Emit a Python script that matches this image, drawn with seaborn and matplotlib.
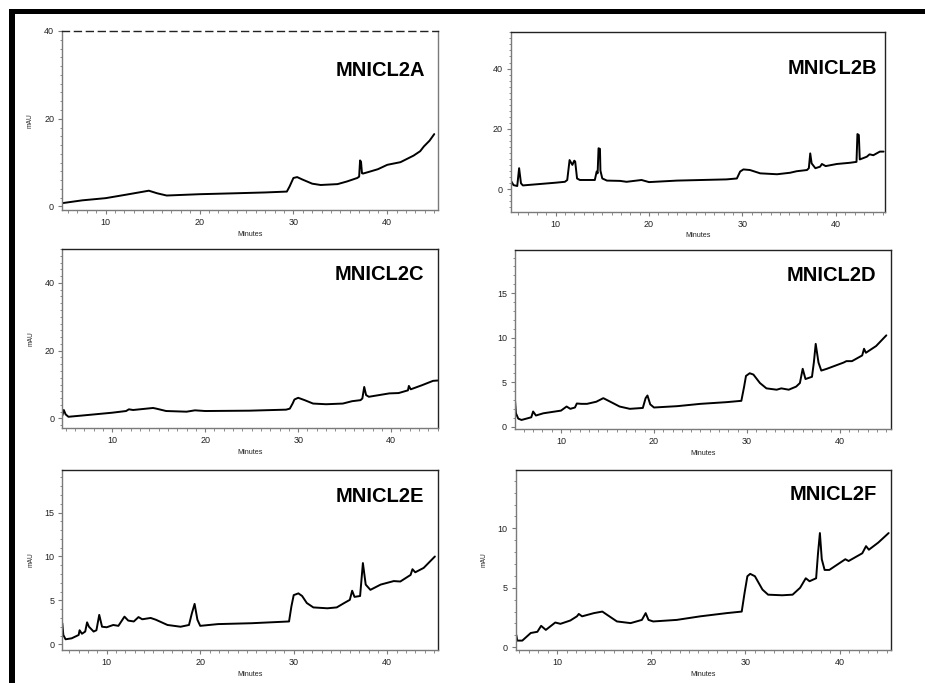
import numpy as np
import pandas as pd
import matplotlib
matplotlib.use("Agg")
import matplotlib.pyplot as plt
from matplotlib.ticker import MultipleLocator
from matplotlib.patches import Rectangle
import seaborn as sns

sns.set_style("ticks")
plt.rcParams['font.family'] = ['Liberation Sans', 'DejaVu Sans']

# ---------------- data (retention time in minutes, absorbance in mAU) -------------
names = ["MNICL2A", "MNICL2B", "MNICL2C", "MNICL2D", "MNICL2E", "MNICL2F"]

t_A = [5.37, 7.5, 10.0, 12.2, 14.6, 15.5, 16.5, 20.0, 23.6, 27.0, 29.3, 29.6, 30.0, 30.4, 30.9,
       32.0, 32.9, 34.7, 35.7, 36.8, 37.0, 37.1, 37.2, 37.3, 37.4, 37.9, 39.0, 40.0, 41.4,
       42.8, 43.5, 43.9, 44.5, 45.0]
y_A = [0.76, 1.4, 1.9, 2.7, 3.6, 3.0, 2.5, 2.8, 3.0, 3.2, 3.4, 4.6, 6.5, 6.7, 6.2,
       5.2, 4.9, 5.1, 5.7, 6.5, 6.8, 10.5, 10.2, 7.6, 7.5, 7.8, 8.5, 9.5, 10.1,
       11.6, 12.6, 13.7, 15.0, 16.5]

t_B = [5.18, 5.5, 5.9, 6.1, 6.3, 6.5, 10.0, 11.0, 11.25, 11.5, 11.8, 12.0, 12.1, 12.3, 12.6,
       14.2, 14.4, 14.5, 14.6, 14.75, 14.8, 15.0, 15.5, 16.9, 17.6, 19.2, 20.0, 23.0, 28.3,
       29.4, 29.75, 30.1, 30.8, 31.9, 33.7, 35.1, 35.8, 36.9, 37.1, 37.25, 37.4, 37.8, 38.3,
       38.5, 38.9, 40.1, 41.5, 42.2, 42.3, 42.45, 42.55, 43.3, 43.6, 44.0, 44.7, 45.1]
y_B = [3.1, 1.4, 1.1, 7.0, 2.0, 1.3, 2.2, 2.5, 3.1, 9.7, 8.1, 9.5, 9.2, 3.6, 3.1,
       3.1, 5.9, 5.3, 13.6, 13.4, 6.2, 3.6, 2.9, 2.8, 2.5, 3.1, 2.4, 2.9, 3.3,
       3.6, 5.9, 6.6, 6.4, 5.3, 5.0, 5.5, 6.0, 6.4, 7.0, 11.9, 8.6, 7.0, 7.5,
       8.4, 7.7, 8.4, 8.8, 9.1, 18.3, 18.0, 9.9, 10.8, 11.6, 11.3, 12.5, 12.5]

t_C = [4.64, 4.8, 5.0, 5.3, 6.9, 10.0, 11.5, 11.8, 12.25, 14.4, 14.75, 15.8, 18.0, 18.9,
       20.0, 24.75, 28.7, 29.1, 29.4, 29.6, 30.0, 30.7, 31.6, 33.0, 34.8, 35.8, 36.7, 36.9,
       37.1, 37.3, 37.6, 39.8, 40.8, 41.8, 41.9, 42.1, 43.3, 44.5, 45.0]
y_C = [0.8, 2.5, 1.2, 0.5, 0.9, 1.7, 2.2, 2.7, 2.5, 3.1, 2.9, 2.2, 2.0, 2.4,
       2.2, 2.3, 2.6, 2.9, 4.4, 5.6, 6.1, 5.4, 4.4, 4.2, 4.4, 5.1, 5.4, 5.9,
       9.3, 6.9, 6.4, 7.4, 7.5, 8.3, 9.6, 8.6, 9.8, 11.1, 11.2]

t_D = [5.05, 5.15, 5.4, 5.75, 6.8, 7.0, 7.3, 8.1, 10.0, 10.6, 11.0, 11.5, 11.7, 12.2, 12.8,
       13.8, 14.55, 15.3, 16.3, 17.4, 18.8, 19.1, 19.3, 19.6, 20.0, 22.5, 25.0, 27.8, 29.4,
       29.7, 29.9, 30.3, 30.7, 31.4, 32.1, 33.2, 33.7, 34.5, 35.3, 35.7, 36.0, 36.3, 37.0,
       37.2, 37.4, 37.7, 38.0, 38.6, 40.4, 40.7, 41.3, 42.4, 42.6, 42.8, 43.9, 45.0]
y_D = [3.0, 1.5, 0.9, 0.75, 1.05, 1.7, 1.25, 1.5, 1.8, 2.26, 2.0, 2.15, 2.6, 2.56, 2.56,
       2.8, 3.2, 2.8, 2.26, 2.0, 2.1, 3.2, 3.5, 2.5, 2.15, 2.3, 2.56, 2.75, 2.9,
       4.5, 5.7, 6.0, 5.85, 4.9, 4.3, 4.15, 4.3, 4.15, 4.5, 4.9, 6.5, 5.35, 5.6,
       7.2, 9.3, 7.2, 6.3, 6.5, 7.2, 7.36, 7.36, 8.0, 8.75, 8.3, 9.06, 10.26]

t_E = [5.25, 5.36, 5.6, 6.25, 7.0, 7.1, 7.35, 7.7, 7.9, 8.1, 8.6, 8.9, 9.2, 9.5, 10.0,
       10.7, 11.25, 11.9, 12.3, 12.9, 13.4, 13.8, 14.7, 15.25, 16.5, 17.9, 18.8, 19.1, 19.4,
       19.7, 20.0, 21.9, 25.5, 29.5, 29.75, 30.0, 30.5, 30.9, 31.4, 32.1, 33.6, 34.6, 35.4,
       36.0, 36.25, 36.5, 37.1, 37.4, 37.7, 38.2, 39.3, 40.7, 41.4, 42.5, 42.7, 43.0, 43.9,
       45.1]
y_E = [2.4, 1.06, 0.57, 0.68, 1.06, 1.6, 1.2, 1.45, 2.5, 2.0, 1.45, 1.6, 3.35, 2.0, 1.94,
       2.2, 2.1, 3.15, 2.7, 2.6, 3.1, 2.85, 3.0, 2.8, 2.2, 2.0, 2.2, 3.5, 4.6,
       2.8, 2.1, 2.3, 2.4, 2.6, 4.3, 5.6, 5.8, 5.5, 4.7, 4.2, 4.1, 4.2, 4.7,
       5.06, 6.1, 5.4, 5.5, 9.25, 6.8, 6.2, 6.8, 7.2, 7.15, 7.9, 8.55, 8.2, 8.7,
       10.0]

t_F = [5.66, 5.77, 6.3, 7.2, 7.9, 8.3, 8.8, 9.8, 10.35, 11.4, 12.1, 12.3, 12.65, 13.9,
       14.8, 15.3, 16.35, 17.8, 19.0, 19.4, 19.7, 20.2, 22.7, 25.2, 28.0, 29.6, 29.9, 30.2,
       30.5, 31.0, 31.8, 32.4, 33.9, 35.0, 35.8, 36.4, 36.8, 37.5, 37.7, 37.9, 38.1, 38.4,
       38.9, 40.6, 40.95, 42.4, 42.8, 43.1, 44.1, 45.2]
y_F = [1.04, 0.56, 0.56, 1.2, 1.3, 1.8, 1.46, 2.08, 1.97, 2.25, 2.6, 2.8, 2.6, 2.87,
       3.0, 2.73, 2.17, 2.03, 2.3, 2.87, 2.3, 2.17, 2.3, 2.6, 2.87, 3.0, 4.56, 5.97,
       6.17, 5.97, 4.85, 4.42, 4.37, 4.42, 5.0, 5.8, 5.55, 5.8, 7.9, 9.6, 7.4, 6.5,
       6.5, 7.4, 7.25, 7.9, 8.5, 8.2, 8.8, 9.6]

times = [t_A, t_B, t_C, t_D, t_E, t_F]
signals = [y_A, y_B, y_C, y_D, y_E, y_F]

x_limits = [(5.35, 45.4), (5.2, 45.25), (4.64, 45.0), (5.05, 45.5), (5.25, 45.4), (5.6, 45.45)]
y_limits = [(-0.8, 40), (-7.4, 52), (-2.9, 50), (-0.3, 19.85), (-0.65, 19.85), (-0.23, 14.9)]
y_major = [20, 20, 20, 5, 5, 5]
y_minor = [2, 2, 2, 1, 1, 1]
has_ylabel = [True, False, True, False, True, True]

# ---------------- layout (pixels in a 925x683 canvas) -------------
W, H = 925, 683
boxes = [(62.0, 31.0, 438.0, 210.0), (510.7, 32.3, 885.0, 211.7),
         (62.3, 249.0, 437.7, 428.3), (515.0, 250.0, 891.0, 429.3),
         (62.3, 470.0, 437.7, 650.0), (515.7, 470.0, 891.0, 650.0)]
title_pos = [(0.965, 0.78), (0.978, 0.80), (0.963, 0.855), (0.962, 0.86), (0.964, 0.854), (0.962, 0.864)]

fig = plt.figure(figsize=(W / 100, H / 100), dpi=100)
fig.patch.set_facecolor("white")

gray = "#7a7a7a"
for i in range(6):
    l, t, r, b = boxes[i]
    ax = fig.add_axes([l / W, (H - b) / H, (r - l) / W, (b - t) / H])
    df = pd.DataFrame({"Minutes": times[i], "mAU": signals[i]})
    sns.lineplot(data=df, x="Minutes", y="mAU", ax=ax, color="black", linewidth=1.4,
                 estimator=None, sort=False)
    ax.set_xlim(*x_limits[i])
    ax.set_ylim(*y_limits[i])
    ax.xaxis.set_major_locator(MultipleLocator(10))
    ax.xaxis.set_minor_locator(MultipleLocator(1))
    ax.yaxis.set_major_locator(MultipleLocator(y_major[i]))
    ax.yaxis.set_minor_locator(MultipleLocator(y_minor[i]))
    ax.tick_params(axis="both", which="major", length=3.2, width=0.8, color=gray,
                   labelsize=6.5, labelcolor="#222222", pad=2.5)
    ax.tick_params(axis="both", which="minor", length=1.8, width=0.6, color=gray)
    for side in ["left", "bottom"]:
        ax.spines[side].set_color(gray)
        ax.spines[side].set_linewidth(1.0)
    for side in ["top", "right"]:
        ax.spines[side].set_visible(True)
        ax.spines[side].set_color("#222222")
        ax.spines[side].set_linewidth(1.0)
    if i == 0:
        ax.spines["top"].set_linestyle((0, (5, 3.6)))
        ax.spines["right"].set_color(gray)
    ax.set_xlabel("Minutes", fontsize=5.2, color="#222222")
    ax.xaxis.set_label_coords(0.5, -0.115)
    if has_ylabel[i]:
        ax.set_ylabel("mAU", fontsize=4.8, color="#222222")
        ax.yaxis.set_label_coords(-0.075, 0.5)
    else:
        ax.set_ylabel("")
    ax.text(title_pos[i][0], title_pos[i][1], names[i], transform=ax.transAxes,
            ha="right", va="center", fontsize=14.5, fontweight="bold", color="black")

# thick frame on the left and top edges
fig.add_artist(Rectangle((9 / W, 0), 6 / W, (H - 9) / H, transform=fig.transFigure,
                         facecolor="black", edgecolor="none"))
fig.add_artist(Rectangle((9 / W, (H - 13.5) / H), (W - 9) / W, 4.5 / H, transform=fig.transFigure,
                         facecolor="black", edgecolor="none"))

fig.savefig("out.png", dpi=100, facecolor="white")
